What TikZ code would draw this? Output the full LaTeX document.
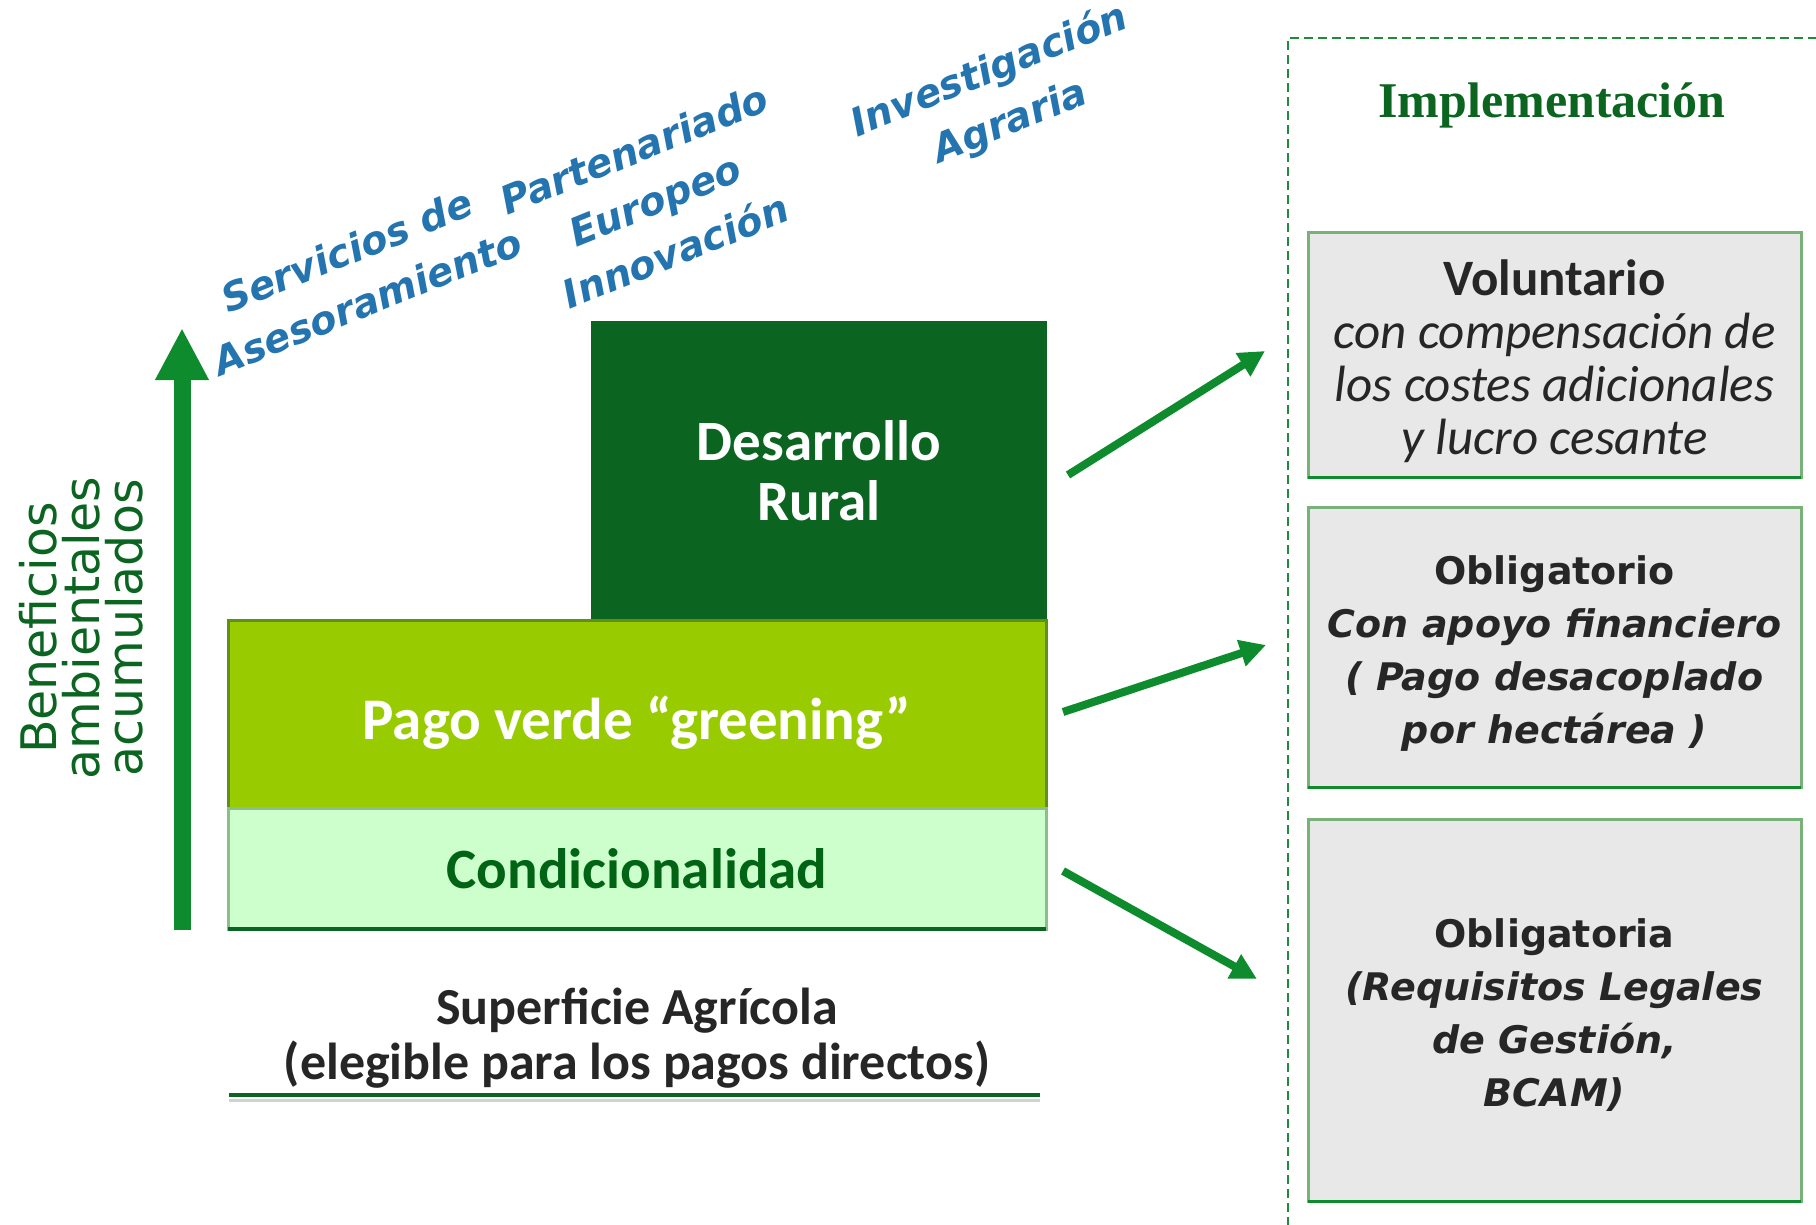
\documentclass[tikz,border=0pt]{standalone}
\usepackage{fontspec}
\setmainfont{Carlito}
\newfontfamily\dvsans{DejaVu Sans}
\newfontfamily\libser{Liberation Serif}
\usetikzlibrary{arrows.meta,calc}
\definecolor{dkgreen}{RGB}{11,101,33}
\definecolor{limefill}{RGB}{153,204,0}
\definecolor{limeborder}{RGB}{95,145,25}
\definecolor{palegreen}{RGB}{204,255,204}
\definecolor{paleborder}{RGB}{140,190,140}
\definecolor{arrgreen}{RGB}{14,140,45}
\definecolor{boxgray}{RGB}{232,232,232}
\definecolor{boxborder}{RGB}{120,178,120}
\definecolor{txtdark}{RGB}{38,38,38}
\definecolor{labelblue}{RGB}{36,116,176}
\definecolor{condtext}{RGB}{0,100,20}
\definecolor{framegreen}{RGB}{30,140,60}
\tikzset{
  layer/.style={inner sep=0pt, outer sep=0pt, align=center},
  choicebox/.style={draw=boxborder, line width=3pt, fill=boxgray, minimum width=493pt,
    inner sep=0pt, outer sep=0pt},
  choicetext/.style={align=center, text=txtdark, inner sep=0pt},
  goarrow/.style={draw=arrgreen, line width=8pt, -{Triangle[length=26pt,width=26pt]}},
  bluelabel/.style={text=labelblue, font=\dvsans\bfseries\itshape\fontsize{39}{55}\selectfont,
    rotate=22, align=center},
  boxbottom/.style={draw=arrgreen, line width=3pt},
}
\begin{document}
\begin{tikzpicture}[x=1pt,y=-1pt]
\useasboundingbox (0,0) rectangle (1816,1225);

% dashed frame
\coordinate (fra) at (1288,1240);
\coordinate (frb) at (1288,38);
\coordinate (frc) at (1830,38);
\draw[framegreen, line width=2.5pt, dash pattern=on 9pt off 5pt] (fra) -- (frb) -- (frc);

% layers
\node[layer, fill=dkgreen, minimum width=456pt, minimum height=299pt, text=white,
  font=\bfseries\fontsize{57}{60}\selectfont] (dr) at (819,470.5) {Desarrollo\\Rural};
\node[layer, fill=limefill, draw=limeborder, line width=3pt, minimum width=818pt,
  minimum height=188pt] (pv) at (637,714) {};
\node[text=white, inner sep=0pt, font=\bfseries\fontsize{59}{60}\selectfont]
  (pvt) at ($(pv.center)+(0,9)$) {Pago verde “greening”};
\node[layer, fill=palegreen, draw=paleborder, line width=3pt, minimum width=818pt,
  minimum height=121pt, text=condtext, font=\bfseries\fontsize{57}{60}\selectfont]
  (cond) at (637,868.5) {Condicionalidad};
\draw[dkgreen, line width=4pt] (cond.south west) -- (cond.south east);

% base label
\node[text=txtdark, align=center, font=\bfseries\fontsize{52}{55}\selectfont]
  (sup) at (637,1038) {Superficie Agrícola\\(elegible para los pagos directos)};
\coordinate (ula) at (229,1095);
\coordinate (ulb) at (1040,1095);
\coordinate (ulc) at (229,1100);
\coordinate (uld) at (1040,1100);
\draw[gray!35, line width=3pt] (ulc) -- (uld);
\draw[dkgreen, line width=4pt] (ula) -- (ulb);

% vertical axis arrow
\coordinate (ub) at (182,930);
\coordinate (ut) at (182,328);
\draw[arrgreen, line width=17pt, -{Triangle[length=52pt,width=50pt]}] (ub) -- (ut);
\node[rotate=90, text=dkgreen, align=center, font=\dvsans\fontsize{49}{43}\selectfont]
  (ben) at (81,628) {Beneficios\\ambientales\\acumulados};

% rotated blue labels
\node[bluelabel] (sa) at (357,276) {Servicios de\\Asesoramiento};
\node[bluelabel] (pe) at (655,200) {Partenariado\\Europeo\\Innovación};
\node[bluelabel] (ia) at (1000,97) {Investigación\\Agraria};

% implementation column
\node[text=dkgreen, font=\libser\bfseries\fontsize{50}{55}\selectfont]
  (impl) at (1552,105) {Implementación};
\node[choicebox, minimum height=244pt] (vol) at (1554.5,355) {};
\node[choicebox, minimum height=280pt] (obl) at (1554.5,647) {};
\node[choicebox, minimum height=382pt] (oba) at (1554.5,1010) {};
\node[choicetext, font=\fontsize{51}{53}\selectfont] (volt) at ($(vol.center)+(0,6)$)
  {\textbf{Voluntario}\\\textit{con compensación de}\\\textit{los costes adicionales}\\\textit{y lucro cesante}};
\node[choicetext, font=\dvsans\bfseries\fontsize{38}{53}\selectfont] (oblt) at ($(obl.center)+(0,7)$)
  {Obligatorio\\\textit{Con apoyo financiero}\\\textit{( Pago desacoplado}\\\textit{por hectárea )}};
\node[choicetext, font=\dvsans\bfseries\fontsize{38}{53}\selectfont] (obat) at ($(oba.center)+(0,5)$)
  {Obligatoria\\\textit{(Requisitos Legales}\\\textit{de Gestión,}\\\textit{BCAM)}};
\draw[boxbottom] (vol.south west) -- (vol.south east);
\draw[boxbottom] (obl.south west) -- (obl.south east);
\draw[boxbottom] (oba.south west) -- (oba.south east);

% connecting arrows
\coordinate (a1s) at (1068,475);
\coordinate (a1e) at (1265,351);
\coordinate (a2s) at (1063,712);
\coordinate (a2e) at (1266,645);
\coordinate (a3s) at (1063,871);
\coordinate (a3e) at (1257,979);
\draw[goarrow] (a1s) -- (a1e);
\draw[goarrow] (a2s) -- (a2e);
\draw[goarrow] (a3s) -- (a3e);
\end{tikzpicture}
\end{document}
